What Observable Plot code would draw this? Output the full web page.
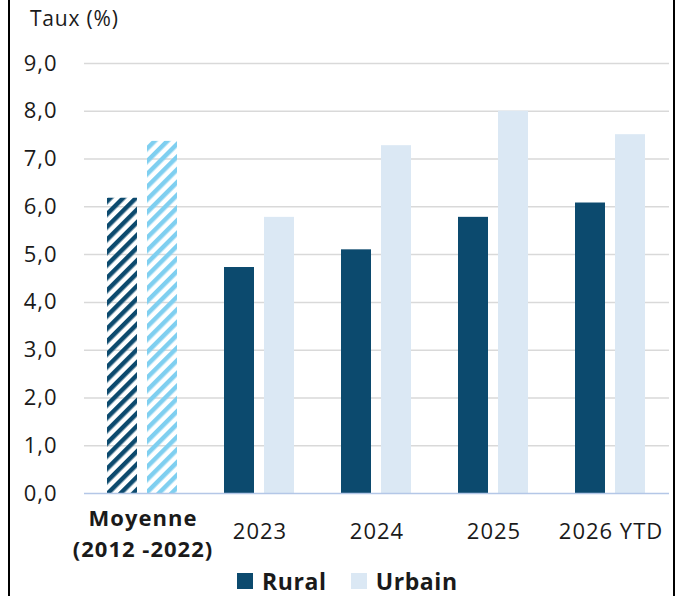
<!DOCTYPE html>
<html><head><meta charset="utf-8">
<script src="https://cdn.jsdelivr.net/npm/d3@7"></script>
<script src="https://cdn.jsdelivr.net/npm/@observablehq/plot@0.6"></script>
<style>
html,body{margin:0;padding:0;background:#fff;}
#wrap{position:relative;width:675px;height:596px;background:#fff;overflow:hidden;font-family:"Open Sans",sans-serif;color:#1a1a1a;}
.bl{position:absolute;left:8px;top:0;width:2px;height:596px;background:#000;}
.br{position:absolute;left:673px;top:0;width:2px;height:596px;background:#000;}
#title{height:36px;line-height:36px;padding-left:30px;font-size:21px;letter-spacing:0.8px;}
#chart{height:530px;}
#chart svg text{letter-spacing:1px;}
#legend{height:30px;display:flex;align-items:center;padding-left:237px;font-size:23px;font-weight:700;letter-spacing:0.6px;}
.item{display:flex;align-items:center;margin-right:24px;}
.sw{width:16px;height:16px;margin-right:9px;}
</style>
</head><body>
<div id="wrap">
 <div class="bl"></div><div class="br"></div>
 <div id="title">Taux (%)</div>
 <div id="chart"></div>
 <div id="legend"></div>
</div>
<script>
const groups = ["Moyenne\n(2012 -2022)", "2023", "2024", "2025", "2026 YTD"];
const series = ["Rural", "Urbain"];
const rural = [6.18, 4.73, 5.10, 5.78, 6.08];
const urbain = [7.37, 5.78, 7.28, 8.00, 7.51];
const yTicks = [0, 1, 2, 3, 4, 5, 6, 7, 8, 9];
const colors = {Rural: "#0c4a6e", Urbain: "#dbe8f4"};
const hatchColors = {Rural: "#0c4a6e", Urbain: "#7fcff0"};

const data = groups.flatMap((g, i) => series.map(s => ({
  group: g, serie: s, value: s === "Rural" ? rural[i] : urbain[i], hatched: i === 0
})));
const fmt = d => d.toFixed(1).replace(".", ",");

const svg = Plot.plot({
  width: 675, height: 530,
  marginLeft: 82, marginRight: 5, marginTop: 27, marginBottom: 73,
  style: {fontFamily: "Open Sans, sans-serif", fontSize: "22px", color: "#1a1a1a", background: "transparent"},
  fx: {domain: groups, padding: 0, axis: null},
  x: {domain: series, paddingInner: 0.24, paddingOuter: 0.58, axis: null},
  y: {domain: [0, 9]},
  marks: [
    Plot.ruleY(yTicks.filter(t => t > 0), {stroke: "#d9d9d9", strokeWidth: 1.5}),
    Plot.barY(data.filter(d => !d.hatched), {fx: "group", x: "serie", y: "value", fill: d => colors[d.serie]}),
    Plot.barY(data.filter(d => d.hatched && d.serie === "Rural"), {fx: "group", x: "serie", y: "value", fill: "url(#hatchRural)"}),
    Plot.barY(data.filter(d => d.hatched && d.serie === "Urbain"), {fx: "group", x: "serie", y: "value", fill: "url(#hatchUrbain)"}),
    Plot.ruleY([0], {stroke: "#b4c7e7", strokeWidth: 1.5}),
    Plot.axisY({ticks: yTicks, tickSize: 0, tickPadding: 27, tickFormat: fmt, fontSize: 22, label: null}),
    Plot.text(groups.slice(0, 1), {fx: d => d, text: d => d, frameAnchor: "bottom", dy: 38, lineAnchor: "middle", fontWeight: "bold", fontSize: 22, lineHeight: 1.4}),
    Plot.text(groups.slice(1), {fx: d => d, text: d => d, frameAnchor: "bottom", dy: 38, lineAnchor: "middle", fontSize: 22})
  ]
});

const ns = "http://www.w3.org/2000/svg";
const defs = document.createElementNS(ns, "defs");
defs.innerHTML = series.map(s =>
  `<pattern id="hatch${s}" patternUnits="userSpaceOnUse" width="9" height="9" patternTransform="rotate(45)">` +
  `<rect x="0" y="0" width="4.5" height="9" fill="${hatchColors[s]}"/></pattern>`).join("");
svg.prepend(defs);
document.getElementById("chart").appendChild(svg);

const legend = document.getElementById("legend");
series.forEach(s => {
  const it = document.createElement("div"); it.className = "item";
  const sw = document.createElement("div"); sw.className = "sw"; sw.style.background = colors[s];
  const tx = document.createElement("span"); tx.textContent = s;
  it.appendChild(sw); it.appendChild(tx); legend.appendChild(it);
});
</script>
</body></html>
